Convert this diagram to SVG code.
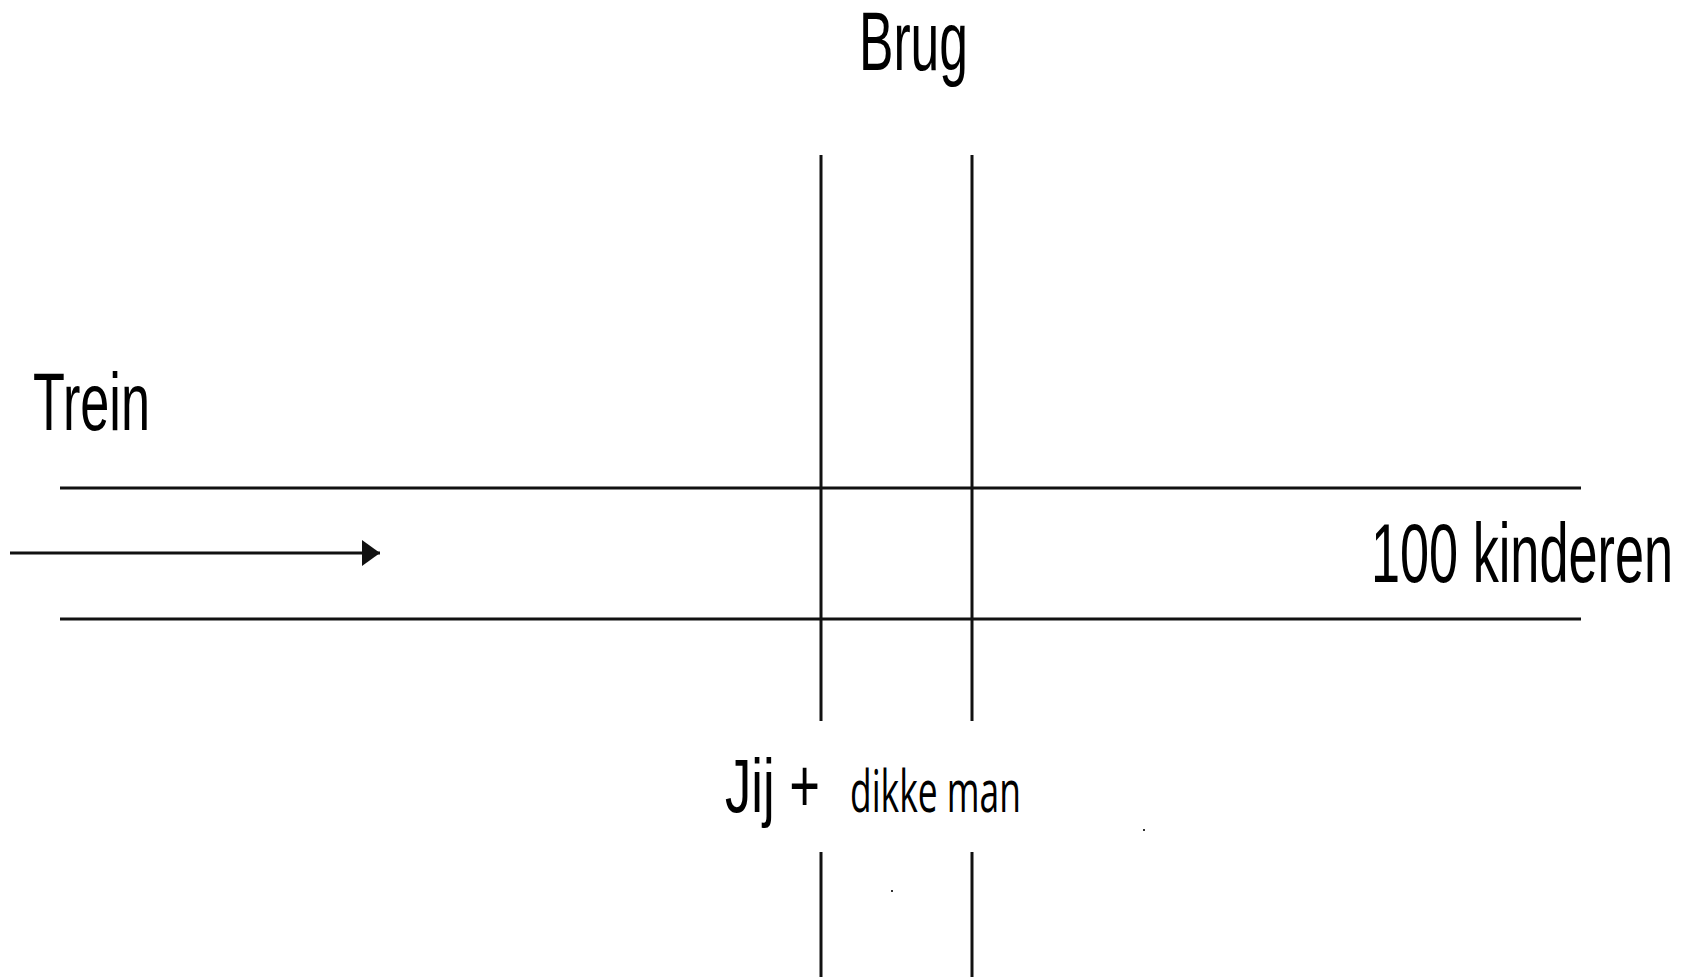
<svg xmlns="http://www.w3.org/2000/svg" width="1698" height="977" viewBox="0 0 1698 977">
<style>
.ln{stroke:#111;stroke-width:3;fill:none}
.lbl{font-family:"Liberation Sans",Arial,sans-serif;fill:#000}
.cal{font-family:"Open Sans","Noto Sans",sans-serif;fill:#000}
</style>
<defs>
<marker id="ah" markerUnits="userSpaceOnUse" markerWidth="20" markerHeight="28" refX="18" refY="13" orient="auto">
<path d="M0,0 L18,13 L0,26 Z" fill="#111"/>
</marker>
</defs>
<rect width="1698" height="977" fill="#fff"/>
<g id="connectors">
<line class="ln" x1="821" y1="155" x2="821" y2="721"/>
<line class="ln" x1="972" y1="155" x2="972" y2="721"/>
<line class="ln" x1="821" y1="852" x2="821" y2="977"/>
<line class="ln" x1="972" y1="852" x2="972" y2="977"/>
<line class="ln" x1="60" y1="488" x2="1581" y2="488"/>
<line class="ln" x1="60" y1="619" x2="1581" y2="619"/>
<line class="ln" x1="10" y1="553" x2="380" y2="553" marker-end="url(#ah)"/>
</g>
<g id="brug"><text class="lbl" x="859" y="70" font-size="84" textLength="109" lengthAdjust="spacingAndGlyphs">Brug</text></g>
<g id="trein"><text class="lbl" x="33" y="430" font-size="82" textLength="117" lengthAdjust="spacingAndGlyphs">Trein</text></g>
<g id="kinderen"><text class="lbl" x="1371" y="582" font-size="84" textLength="302" lengthAdjust="spacingAndGlyphs">100 kinderen</text></g>
<g id="jij"><text class="lbl" x="725" y="812" font-size="76" textLength="95" lengthAdjust="spacingAndGlyphs">Jij +</text></g>
<g id="dikke-man"><text class="cal" x="850" y="812" font-size="58" textLength="171" lengthAdjust="spacingAndGlyphs">dikke man</text></g>
<g id="specks" fill="#333">
<rect x="891" y="890" width="2" height="2"/>
<rect x="1143" y="829" width="2" height="2"/>
</g>
</svg>
